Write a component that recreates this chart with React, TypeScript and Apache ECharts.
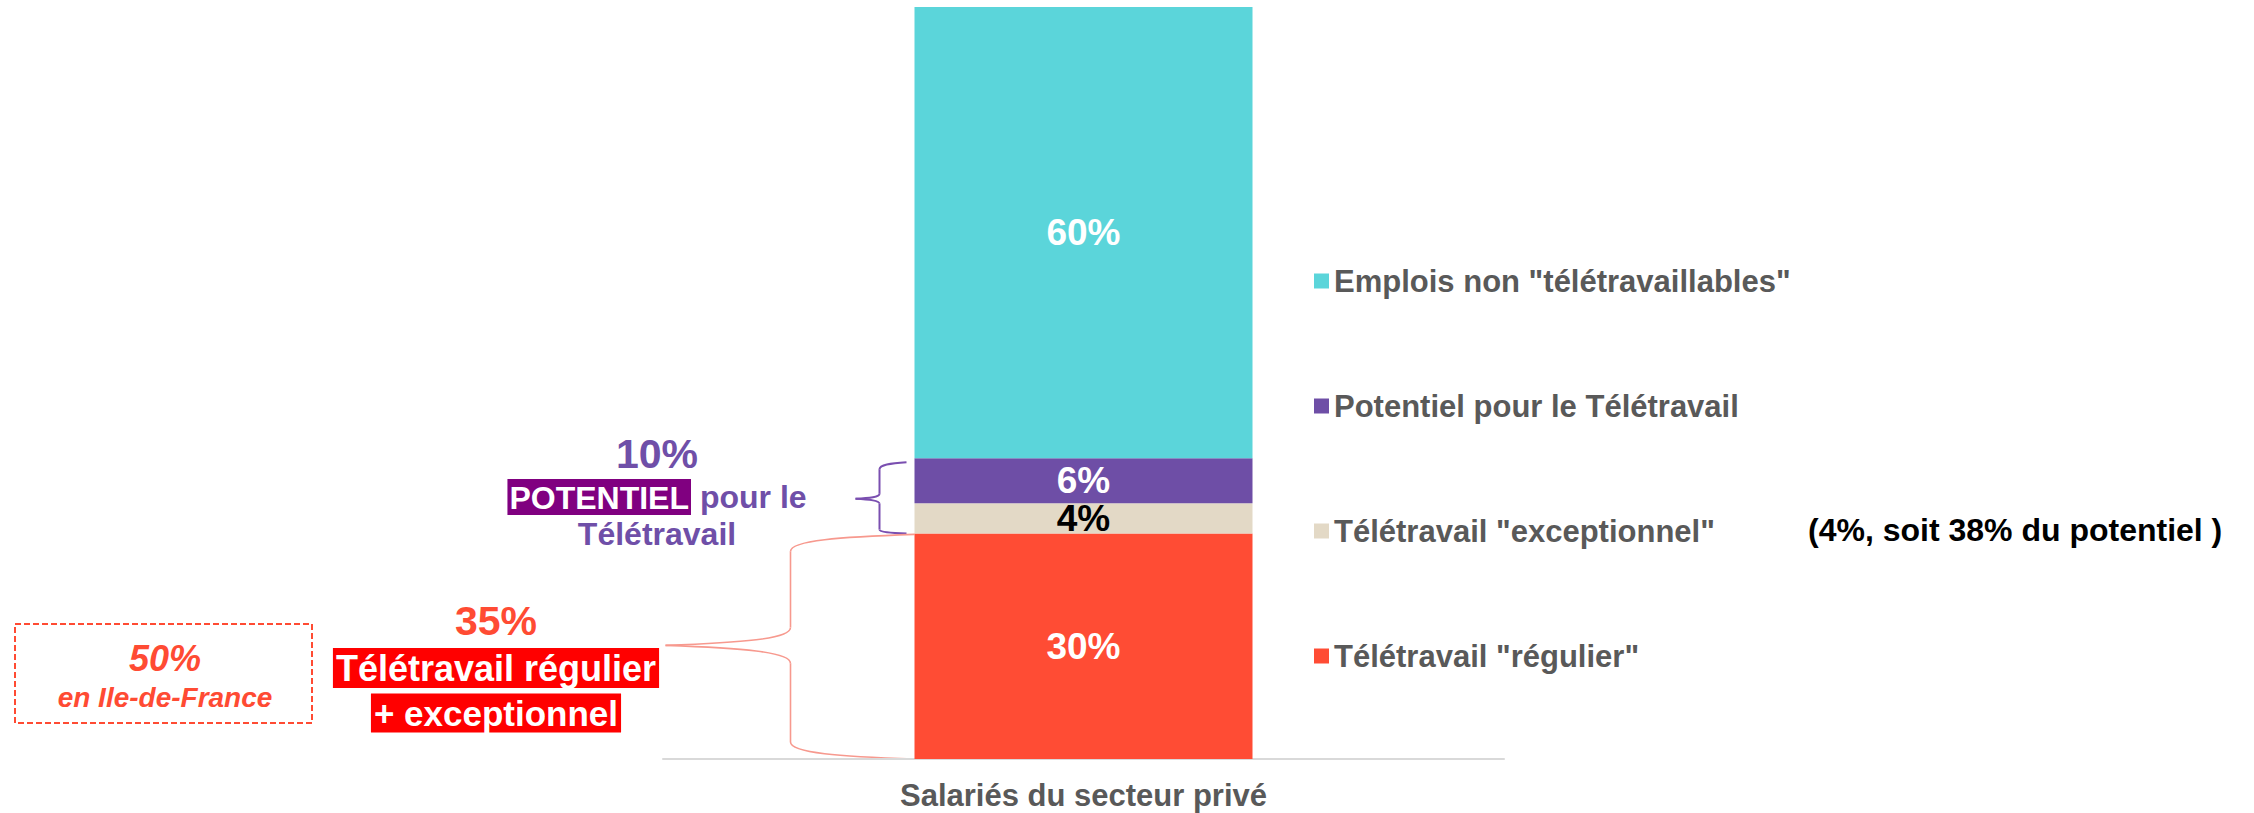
import { useEffect, useRef } from "react";
import * as echarts from "echarts";

// ---------- data ----------
const categories = ["Salariés du secteur privé"];
const seriesNames = [
  'Télétravail "régulier"',
  'Télétravail "exceptionnel"',
  "Potentiel pour le Télétravail",
  'Emplois non "télétravaillables"',
];
const regulier = [30];
const exceptionnel = [4];
const potentiel = [6];
const nonTeletravaillables = [60];
const seriesColors = ["#FF4C34", "#E3D9C6", "#6E4EA6", "#5BD5DA"];
const labelColors = ["#ffffff", "#000000", "#ffffff", "#ffffff"];
const legendOrder = [...seriesNames].reverse();

const potentielTotal = "10%";
const regExcTotal = "35%";
const idfValue = "50%";
const noteExceptionnel = "(4%, soit 38% du potentiel )";

const FONT = "Liberation Sans, Arial, Helvetica, sans-serif";
const BAR_W = 338;
const PURPLE_TXT = "#6F4FA8";
const RED_TXT = "#FF4B33";

function brace(
  xEnd: number,
  yTop: number,
  yBot: number,
  xSpine: number,
  xTip: number,
  yTip: number,
  rTop: number,
  rTip: number,
  rBot: number,
  color: string,
  lw: number
) {
  const s = { stroke: color, lineWidth: lw, fill: "none" };
  const dx = xEnd - xSpine;
  const dt = xSpine - xTip;
  return [
    {
      type: "bezierCurve",
      shape: {
        x1: xEnd, y1: yTop,
        cpx1: xSpine + dx * 0.4, cpy1: yTop + rTop * 0.15,
        cpx2: xSpine, cpy2: yTop + rTop * 0.35,
        x2: xSpine, y2: yTop + rTop,
      },
      style: s,
    },
    { type: "line", shape: { x1: xSpine, y1: yTop + rTop, x2: xSpine, y2: yTip - rTip }, style: s },
    {
      type: "bezierCurve",
      shape: {
        x1: xSpine, y1: yTip - rTip,
        cpx1: xSpine, cpy1: yTip - rTip * 0.35,
        cpx2: xTip + dt * 0.6, cpy2: yTip - rTip * 0.15 + 0.01,
        x2: xTip, y2: yTip,
      },
      style: s,
    },
    {
      type: "bezierCurve",
      shape: {
        x1: xTip, y1: yTip,
        cpx1: xTip + dt * 0.6, cpy1: yTip + rTip * 0.15,
        cpx2: xSpine, cpy2: yTip + rTip * 0.35,
        x2: xSpine, y2: yTip + rTip,
      },
      style: s,
    },
    { type: "line", shape: { x1: xSpine, y1: yTip + rTip, x2: xSpine, y2: yBot - rBot }, style: s },
    {
      type: "bezierCurve",
      shape: {
        x1: xSpine, y1: yBot - rBot,
        cpx1: xSpine, cpy1: yBot - rBot * 0.35,
        cpx2: xSpine + dx * 0.4, cpy2: yBot - rBot * 0.15,
        x2: xEnd, y2: yBot,
      },
      style: s,
    },
  ];
}

export default function App() {
  const ref = useRef<HTMLDivElement>(null);

  useEffect(() => {
    document.body.style.margin = "0";
    document.body.style.overflow = "hidden";
    const el = ref.current!;
    const chart = echarts.init(el, null, { renderer: "svg" });
    const values = [regulier, exceptionnel, potentiel, nonTeletravaillables];

    chart.setOption({
      animation: false,
      backgroundColor: "#ffffff",
      textStyle: { fontFamily: FONT },
      grid: { left: 663, right: 750, top: 7, bottom: 54, containLabel: false },
      legend: {
        orient: "vertical",
        left: 1309,
        top: 260,
        itemWidth: 15,
        itemHeight: 15,
        itemGap: 93,
        icon: "rect",
        selectedMode: false,
        data: legendOrder,
        textStyle: {
          fontFamily: FONT,
          fontSize: 31,
          fontWeight: "bold",
          color: "#595959",
          lineHeight: 32,
        },
      },
      xAxis: {
        type: "category",
        data: categories,
        axisLine: { lineStyle: { color: "#D9D9D9", width: 2 } },
        axisTick: { show: false },
        axisLabel: {
          fontFamily: FONT,
          fontSize: 31,
          fontWeight: "bold",
          color: "#595959",
          margin: 21,
        },
      },
      yAxis: { type: "value", min: 0, max: 100, show: false },
      series: seriesNames.map((name, i) => ({
        name,
        type: "bar",
        stack: "total",
        barWidth: BAR_W,
        data: values[i],
        itemStyle: { color: seriesColors[i] },
        label: {
          show: true,
          position: "inside",
          formatter: "{c}%",
          fontFamily: FONT,
          fontSize: 37,
          fontWeight: "bold",
          color: labelColors[i],
        },
      })),
    });

    const yOf = (v: number) => chart.convertToPixel({ yAxisIndex: 0 }, v) as number;
    const xc = chart.convertToPixel({ xAxisIndex: 0 }, 0) as number;
    const barLeft = xc - BAR_W / 2;

    const yPotTop = yOf(regulier[0] + exceptionnel[0] + potentiel[0]);
    const yRegTop = yOf(regulier[0]);
    const yZero = yOf(0);

    const purpleBrace = brace(barLeft - 8, yPotTop + 4, yRegTop, barLeft - 35, barLeft - 59, (yPotTop + yRegTop) / 2 + 3, 7, 5, 4, "#7A4FB0", 2);
    const redBrace = brace(barLeft, yRegTop + 1, yZero, barLeft - 124, barLeft - 249, yRegTop + 112, 17, 18, 17, "#F7998E", 1.6);

    const txt = (
      text: string,
      x: number,
      y: number,
      fontSize: number,
      fill: string,
      extra: any = {}
    ) => ({
      type: "text",
      x,
      y,
      z: 10,
      style: {
        text,
        fill,
        fontFamily: FONT,
        fontSize,
        fontWeight: "bold",
        align: "center",
        verticalAlign: "middle",
        ...extra,
      },
    });

    chart.setOption({
      graphic: [
        ...purpleBrace,
        ...redBrace,
        txt(potentielTotal, 657, 454, 41, PURPLE_TXT),
        {
          type: "text",
          x: 657,
          y: 497,
          z: 10,
          style: {
            text: "{a|POTENTIEL}{b| pour le}",
            align: "center",
            verticalAlign: "middle",
            fontFamily: FONT,
            fontSize: 32,
            fontWeight: "bold",
            rich: {
              a: {
                fill: "#ffffff",
                color: "#ffffff",
                backgroundColor: "#800080",
                padding: [3, 2, 1, 2],
                fontFamily: FONT,
                fontSize: 32,
                fontWeight: "bold",
              },
              b: {
                fill: PURPLE_TXT,
                color: PURPLE_TXT,
                fontFamily: FONT,
                fontSize: 32,
                fontWeight: "bold",
              },
            },
          },
        },
        txt("Télétravail", 657, 534, 32, PURPLE_TXT),
        txt(regExcTotal, 496, 621, 41, RED_TXT),
        txt("Télétravail régulier", 496, 668, 36, "#ffffff", {
          backgroundColor: "#FF0000",
          padding: [3, 3, 1, 3],
        }),
        txt("+ exceptionnel", 496, 713, 35, "#ffffff", {
          backgroundColor: "#FF0000",
          padding: [3, 3, 1, 3],
        }),
        {
          type: "rect",
          shape: { x: 15, y: 624, width: 297, height: 99 },
          style: { fill: "none", stroke: RED_TXT, lineWidth: 2, lineDash: [6, 3] },
        },
        txt(idfValue, 165, 658, 36, RED_TXT, { fontStyle: "italic" }),
        txt("en Ile-de-France", 165, 697, 28, RED_TXT, { fontStyle: "italic" }),
        txt(noteExceptionnel, 1808, 530, 32, "#000000", { align: "left" }),
      ],
    });

    return () => chart.dispose();
  }, []);

  return <div ref={ref} style={{ width: 2254, height: 813 }} />;
}
